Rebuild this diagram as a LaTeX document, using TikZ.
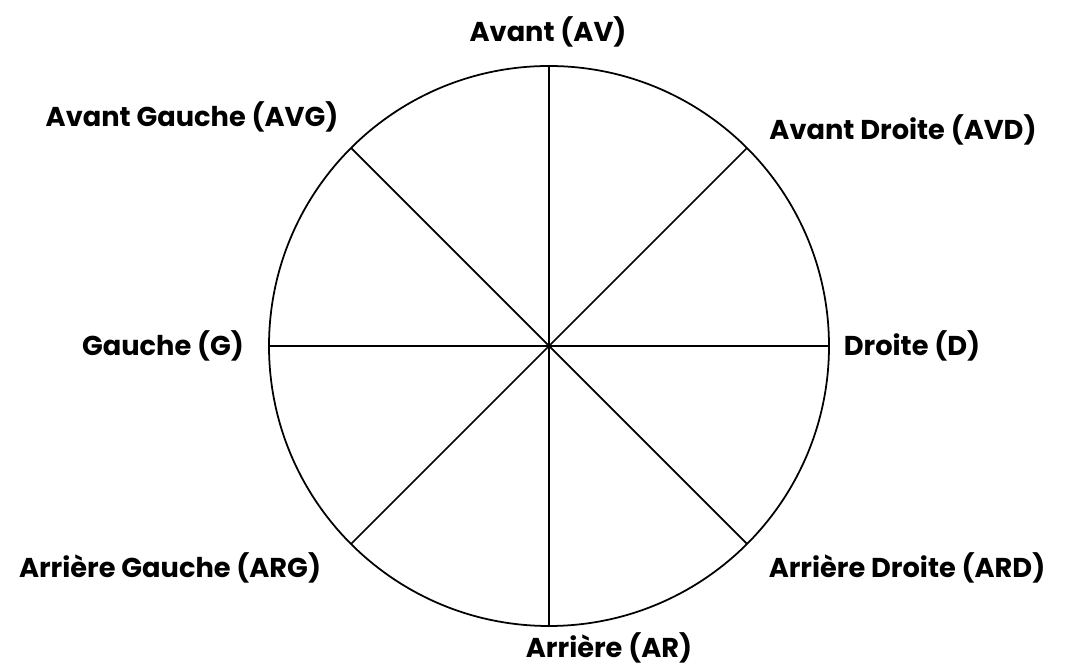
\documentclass[tikz,border=0pt]{standalone}
\usepackage{fontspec}
\setmainfont{Poppins}
\usetikzlibrary{calc}
\begin{document}
\begin{tikzpicture}[
	rim/.style={line width=1pt},
	lab/.style={font=\fontsize{15.5}{18}\selectfont\bfseries, inner sep=1pt}
	]
	\useasboundingbox (0,0) rectangle (21.38,13.42);
	
	% Centre and circle
	\coordinate (o) at (10.98,6.50);
	\draw[rim] (o) circle (5.6);
	
	% Points on the circle, every 45 degrees
	\foreach \n/\ang in {d/0, avd/45, av/90, avg/135, g/180, arg/225, ar/270, ard/315}{
		\coordinate (p\n) at ($(o)+(\ang:5.6)$);
	}
	
	% Diameters
	\foreach \a/\b in {av/ar, avd/arg, d/g, ard/avg}{
		\draw[rim] (p\a) -- (p\b);
	}
	
	% Labels
	\node[lab] (tav)  at (10.96,12.78) {Avant (AV)};
	\node[lab] (tavg) at (3.84,11.08)  {Avant Gauche (AVG)};
	\node[lab] (tavd) at (18.06,10.82) {Avant Droite (AVD)};
	\node[lab] (tg)   at (3.26,6.50)   {Gauche (G)};
	\node[lab] (td)   at (18.24,6.50)  {Droite (D)};
	\node[lab] (targ) at (3.40,2.06)   {Arrière Gauche (ARG)};
	\node[lab] (tard) at (18.14,2.06)  {Arrière Droite (ARD)};
	\node[lab] (tar)  at (12.18,0.46)  {Arrière (AR)};
\end{tikzpicture}
\end{document}
